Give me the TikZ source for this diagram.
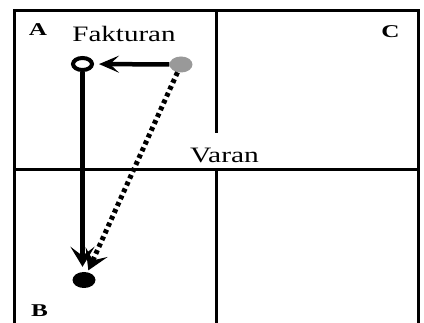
\documentclass[tikz,border=0pt]{standalone}
\usepackage{fontspec}
\setmainfont{Liberation Serif}
\usetikzlibrary{arrows.meta,shapes.geometric}
\begin{document}
\begin{tikzpicture}[x=1pt,y=-1pt,
  frame/.style={line width=3pt,line cap=rect},
  lbl/.style={inner sep=0pt,anchor=base},
  bigtext/.style={font=\fontsize{22}{22}\selectfont},
  corner/.style={font=\fontsize{18}{18}\selectfont\bfseries},
  dot/.style={ellipse,inner sep=0pt,minimum width=23pt,minimum height=16pt},
  arr/.style={line width=4.5pt,-{Stealth[length=20pt,width=24pt,inset=9pt]}},
  dotarr/.style={line width=5pt,dash pattern=on 4pt off 3.5pt,-{Stealth[length=20pt,width=24pt,inset=9pt]}}
]
\useasboundingbox (0,0) rectangle (424,323);
\fill[white] (0,0) rectangle (424,323);
% frame
\coordinate (tl) at (14,11);
\coordinate (tr) at (418,11);
\coordinate (bl) at (14,330);
\coordinate (br) at (418,330);
\coordinate (ml) at (14,169.5);
\coordinate (mr) at (418,169.5);
\coordinate (vt) at (216,11);
\coordinate (vg) at (216,132);
\coordinate (vm) at (216,169.5);
\coordinate (vb) at (216,330);
\draw[frame] (bl) -- (tl) -- (tr) -- (br);
\draw[frame] (ml) -- (mr);
\draw[frame] (vt) -- (vg);
\draw[frame] (vm) -- (vb);
% labels
\node[lbl,corner] (A) at (38,36) {\scalebox{1.4}[1]{A}};
\node[lbl,corner] (B) at (39.5,317) {\scalebox{1.4}[1]{B}};
\node[lbl,corner] (C) at (390.5,38) {\scalebox{1.4}[1]{C}};
\node[lbl,bigtext] (fak) at (124,41.7) {\scalebox{1.32}[1]{Fakturan}};
\node[lbl,bigtext] (var) at (224.5,162.3) {\scalebox{1.34}[1]{Varan}};
% dots
\node[dot,draw,line width=4pt,minimum width=19pt,minimum height=12pt] (open) at (82.5,64) {};
\node[dot,fill=black!40] (gray) at (181,64.5) {};
\node[dot,fill=black] (black) at (84,280) {};
% arrows
\draw[arr,-{Stealth[length=20pt,width=17pt,inset=9pt]},shorten >=5pt] (gray) -- (open);
\draw[arr,shorten >=5pt] (open) -- (open |- black.north);
\draw[dotarr,shorten >=2pt] (gray) -- (black);
\end{tikzpicture}
\end{document}
